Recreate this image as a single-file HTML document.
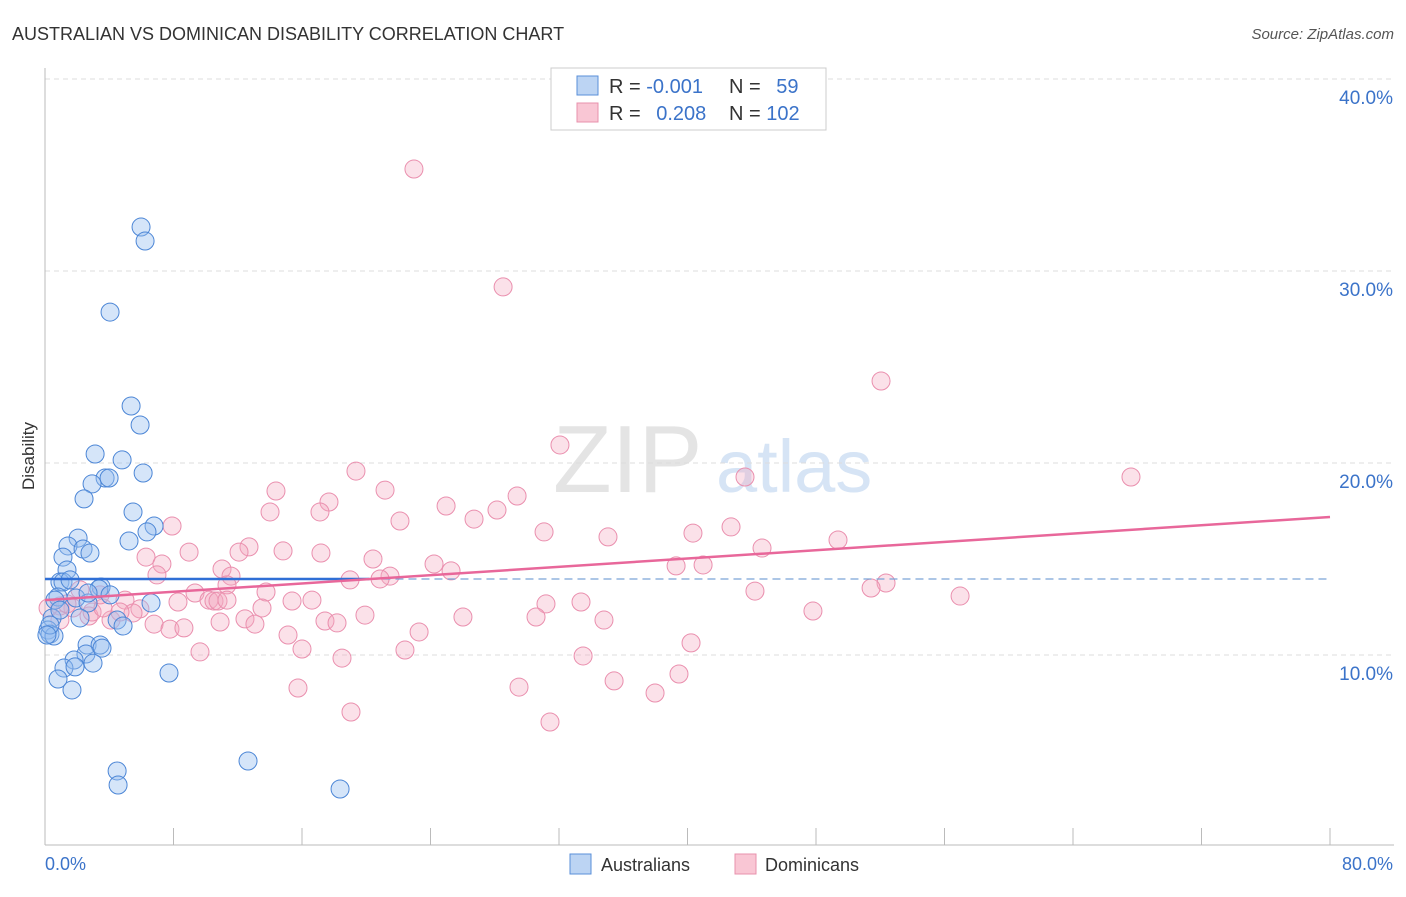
<!DOCTYPE html>
<html><head><meta charset="utf-8"><style>
body{margin:0;background:#fff;font-family:"Liberation Sans",sans-serif;}
svg text{font-family:"Liberation Sans",sans-serif;}
</style></head><body>
<svg id="chart" width="1406" height="892">
<text x="12" y="40" font-size="18" fill="#333">AUSTRALIAN VS DOMINICAN DISABILITY CORRELATION CHART</text>
<text x="1394" y="39" font-size="15" fill="#555" font-style="italic" text-anchor="end">Source: ZipAtlas.com</text>
<g>
<text x="553" y="492" font-size="96" fill="#e4e4e4" font-family="Liberation Serif">ZIP</text>
<text x="716" y="492" font-size="74" fill="#d6e4f5">atlas</text>
</g>
<g id="grid"></g>
<g id="axes"></g>
<g id="marks"></g>
<text x="34" y="456" font-size="17" fill="#333" transform="rotate(-90 34 456)" text-anchor="middle">Disability</text>
<g>
<rect x="551" y="68" width="275" height="62" fill="#fff" stroke="#ccc"/>
<rect x="577" y="76" width="21" height="19" fill="#bcd4f3" stroke="#5a8fd8"/>
<rect x="577" y="103" width="21" height="19" fill="#f9c6d4" stroke="#e891ac"/>
<text x="609" y="93" font-size="20" fill="#333">R = <tspan fill="#3b73c9">-0.001</tspan></text>
<text x="729" y="93" font-size="20" fill="#333">N = <tspan fill="#3b73c9" dx="10">59</tspan></text>
<text x="609" y="120" font-size="20" fill="#333">R = <tspan fill="#3b73c9" dx="10">0.208</tspan></text>
<text x="729" y="120" font-size="20" fill="#333">N = <tspan fill="#3b73c9">102</tspan></text>
</g>
<g>
<rect x="570" y="854" width="21" height="20" fill="#bcd4f3" stroke="#5a8fd8"/>
<text x="601" y="871" font-size="18" fill="#333">Australians</text>
<rect x="735" y="854" width="21" height="20" fill="#f9c6d4" stroke="#e891ac"/>
<text x="765" y="871" font-size="18" fill="#333">Dominicans</text>
</g>
</svg>
<script>
const yTicks=[10,20,30,40];
const yTickLabels=["10.0%","20.0%","30.0%","40.0%"];
const xTickCount=10;
const xLabels=["0.0%","80.0%"];
const ausX=[5.98,6.23,4.05,5.36,5.92,3.12,4.80,6.11,3.74,3.99,2.93,2.43,5.48,6.79,6.35,2.06,5.23,1.43,2.37,2.80,1.12,1.37,0.93,1.12,3.49,3.36,0.81,1.93,6.60,2.68,2.18,0.44,4.49,4.86,0.19,0.31,0.56,2.62,3.43,2.55,3.55,1.81,1.18,2.99,1.87,7.72,0.81,1.68,12.64,4.49,4.55,18.37,0.31,0.62,0.12,0.93,2.68,1.56,4.05];
const ausY=[32.29,31.56,27.86,22.97,21.98,20.47,20.16,19.48,19.22,19.22,18.91,18.13,17.45,16.72,16.41,16.09,15.94,15.68,15.52,15.31,15.10,14.43,13.80,13.80,13.54,13.44,13.02,12.97,12.71,12.71,11.93,11.93,11.82,11.51,11.30,11.09,10.99,10.52,10.52,10.05,10.36,9.74,9.32,9.58,9.38,9.06,8.75,8.18,4.48,3.96,3.23,3.02,11.56,12.86,11.04,12.34,13.23,13.91,13.13];
const domX=[22.97,28.52,52.05,32.06,43.58,67.61,19.36,21.17,14.38,29.39,17.68,24.97,28.14,17.12,14.01,26.71,22.10,7.91,42.71,40.34,31.07,35.05,49.37,44.64,12.70,17.18,14.82,8.97,12.08,6.29,20.42,7.28,39.29,40.97,24.22,25.28,11.02,21.48,6.97,11.58,20.86,52.36,51.43,11.33,44.20,56.97,13.76,9.34,16.62,31.19,33.37,15.38,8.28,10.21,10.52,10.77,4.98,5.91,5.48,13.51,47.81,19.92,26.02,30.57,34.80,12.45,17.43,18.18,6.79,10.90,13.07,7.78,8.65,2.74,1.74,0.93,0.19,2.93,0.93,15.13,23.29,4.11,3.61,4.67,40.22,16.00,22.41,9.65,18.49,33.50,39.47,35.43,15.75,29.51,37.98,19.05,31.44,11.33,2.18,1.37,3.43,18.99];
const domY=[35.31,29.17,24.27,20.94,19.27,19.27,19.58,18.59,18.54,18.28,17.97,17.76,17.55,17.45,17.45,17.08,16.98,16.72,16.67,16.35,16.41,16.15,15.99,15.57,15.63,15.31,15.42,15.36,15.36,15.10,15.00,14.74,14.64,14.69,14.74,14.38,14.48,14.11,14.17,14.11,13.96,13.75,13.49,13.65,13.33,13.07,13.28,13.23,12.86,12.66,12.76,12.81,12.76,12.86,12.81,12.81,12.86,12.40,12.19,12.45,12.29,12.08,11.98,11.98,11.82,11.88,11.77,11.67,11.61,11.72,11.61,11.35,11.41,12.03,12.45,12.55,12.45,12.24,11.82,11.04,11.20,11.82,12.45,12.24,10.63,10.31,10.26,10.16,9.84,9.95,9.01,8.65,8.28,8.33,8.02,7.03,6.51,12.86,13.39,12.66,13.13,13.91];
const ausTrend=[13.96,13.96];
const ausTrendSolidEnd=20.2;
const domTrend=[12.86,17.19];
const X0=45,X1=1330,Y0=847,PXPER=19.2;
function sx(v){return X0+(X1-X0)*v/80;}
function sy(v){return Y0-v*PXPER;}
const NS="http://www.w3.org/2000/svg";
function mk(tag,attrs,parent){const e=document.createElementNS(NS,tag);for(const k in attrs)e.setAttribute(k,attrs[k]);parent.appendChild(e);return e;}
const grid=document.getElementById('grid'),axes=document.getElementById('axes'),marks=document.getElementById('marks');
yTicks.forEach((t,i)=>{
  const l=mk('line',{x1:45,x2:1394,y1:sy(t),y2:sy(t),stroke:'#ddd','stroke-dasharray':'5,4'},grid);
  
  
  const tx=mk('text',{x:1393,y:sy(t)+25,'font-size':19,fill:'#3b73c9','text-anchor':'end'},axes);
  tx.textContent=yTickLabels[i];
  
  
});
const topl=mk('line',{x1:45,x2:1394,y1:79,y2:79,stroke:'#ddd','stroke-dasharray':'5,4'},grid);


const ya=mk('line',{x1:45,x2:45,y1:68,y2:845,stroke:'#bbb'},axes);


const xa=mk('line',{x1:45,x2:1394,y1:845,y2:845,stroke:'#bbb'},axes);


for(let i=0;i<=xTickCount;i++){
  const v=80*i/xTickCount;
  const t=mk('line',{x1:sx(v),x2:sx(v),y1:828,y2:845,stroke:'#bbb'},axes);
  
  
}
const xl0=mk('text',{x:45,y:870,'font-size':18,fill:'#3b73c9'},axes);
xl0.textContent=xLabels[0];


const xl1=mk('text',{x:1393,y:870,'font-size':18,fill:'#3b73c9','text-anchor':'end'},axes);
xl1.textContent=xLabels[1];


domX.forEach((x,i)=>{
  const c=mk('circle',{cx:sx(x),cy:sy(domY[i]),r:9,fill:'rgba(244,168,192,0.35)',stroke:'#ea8fae','stroke-width':1},marks);
  
  
});
ausX.forEach((x,i)=>{
  const c=mk('circle',{cx:sx(x),cy:sy(ausY[i]),r:9,fill:'rgba(150,190,240,0.4)',stroke:'#4c86d6','stroke-width':1},marks);
  
  
});
const at=mk('line',{x1:sx(0),x2:sx(ausTrendSolidEnd),y1:sy(ausTrend[0]),y2:sy(ausTrend[0]+(ausTrend[1]-ausTrend[0])*ausTrendSolidEnd/80),stroke:'#2f6fd6','stroke-width':2.5},marks);


const atd=mk('line',{x1:sx(ausTrendSolidEnd),x2:sx(80),y1:sy(ausTrend[0]),y2:sy(ausTrend[1]),stroke:'#7aa3d8','stroke-width':1.2,'stroke-dasharray':'8,5'},marks);


const dt=mk('line',{x1:sx(0),x2:sx(80),y1:sy(domTrend[0]),y2:sy(domTrend[1]),stroke:'#e8679a','stroke-width':2.5},marks);


</script>
</body></html>
